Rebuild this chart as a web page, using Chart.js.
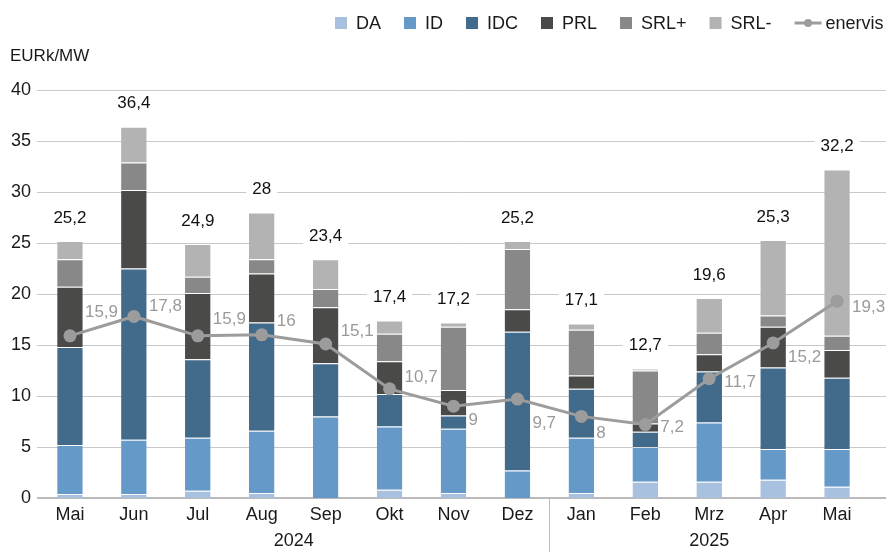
<!DOCTYPE html>
<html><head><meta charset="utf-8">
<script src="https://cdn.jsdelivr.net/npm/chart.js@4.4.1/dist/chart.umd.min.js"></script>
<style>html,body{margin:0;padding:0;background:#fff;overflow:hidden}</style>
</head><body>
<canvas id="c" width="886" height="552"></canvas>
<script>
const months = ['Mai','Jun','Jul','Aug','Sep','Okt','Nov','Dez','Jan','Feb','Mrz','Apr','Mai'];
const years = ['2024','2025'];
const yearStart = [0, 8];
const yearEnd = [7, 12];
const DA = [0.4,0.4,0.7,0.5,0,0.8,0.5,0,0.5,1.6,1.6,1.8,1.1];
const ID = [4.8,5.3,5.2,6.1,8.0,6.2,6.3,2.7,5.4,3.4,5.8,3.0,3.7];
const IDC = [9.6,16.8,7.7,10.6,5.2,3.2,1.3,13.6,4.8,1.5,5.0,8.0,7.0];
const PRL = [5.9,7.7,6.5,4.8,5.5,3.2,2.5,2.2,1.3,0.8,1.7,4.0,2.7];
const SRLplus = [2.7,2.7,1.6,1.4,1.8,2.7,6.2,5.9,4.5,5.2,2.1,1.1,1.4];
const SRLminus = [1.8,3.5,3.2,4.6,2.9,1.3,0.4,0.8,0.6,0.2,3.4,7.4,16.3];
const enervis = [15.9,17.8,15.9,16,15.1,10.7,9,9.7,8,7.2,11.7,15.2,19.3];
const yMin = 0, yMax = 40, yStep = 5;
const yTitle = 'EURk/MW';

const FONT = '"Liberation Sans", Arial, Helvetica, sans-serif';
const fmt = v => (Math.round(v*10)/10).toLocaleString('de-DE', {maximumFractionDigits:1});

const barSets = [
  {label:'DA', data:DA, color:'#a7c1de'},
  {label:'ID', data:ID, color:'#6499c8'},
  {label:'IDC', data:IDC, color:'#426a8b'},
  {label:'PRL', data:PRL, color:'#4a4a49'},
  {label:'SRL+', data:SRLplus, color:'#888888'},
  {label:'SRL-', data:SRLminus, color:'#b3b3b3'}
];

const datasets = barSets.map(s => ({
  type:'bar', label:s.label, data:s.data, backgroundColor:s.color,
  borderColor:'rgba(255,255,255,0.35)', borderWidth:{top:1,left:0,right:0,bottom:0},
  borderSkipped:false, stack:'s', order:1,
  barPercentage:0.4, categoryPercentage:1
}));
datasets.push({
  type:'line', label:'enervis', data:enervis, borderColor:'#9c9c9c', backgroundColor:'#9c9c9c',
  borderWidth:3, pointRadius:6.5, pointBackgroundColor:'#9c9c9c', pointBorderWidth:0,
  tension:0, order:0
});

const lineLabelDy = [-25,-11,-18,-14,-14,-13,13,23,16,2,3,13,5];

const decor = {
  id:'decor',
  beforeDatasetsDraw(chart){
    const {ctx, chartArea:a, scales:{x,y}} = chart;
    ctx.save();
    for (let v = yMin + yStep; v <= yMax; v += yStep){
      const py = Math.round(y.getPixelForValue(v)) + 0.5;
      ctx.strokeStyle = '#c9c9c9'; ctx.lineWidth = 1;
      ctx.beginPath(); ctx.moveTo(a.left - 1, py); ctx.lineTo(chart.width, py); ctx.stroke();
    }
    const p0 = Math.round(y.getPixelForValue(0));
    ctx.strokeStyle = '#a3a3a3'; ctx.lineWidth = 1.5;
    ctx.beginPath(); ctx.moveTo(a.left - 1, p0); ctx.lineTo(chart.width, p0); ctx.stroke();
    const sx = Math.round((x.getPixelForValue(yearEnd[0]) + x.getPixelForValue(yearStart[1]))/2) + 0.5;
    ctx.strokeStyle = '#bdbdbd'; ctx.lineWidth = 1;
    ctx.beginPath(); ctx.moveTo(sx, p0); ctx.lineTo(sx, chart.height); ctx.stroke();
    ctx.restore();
  },
  afterDatasetsDraw(chart){
    const {ctx, scales:{x,y}} = chart;
    ctx.save();
    ctx.font = '17px ' + FONT;
    ctx.textAlign = 'center'; ctx.textBaseline = 'middle';
    months.forEach((m,i) => {
      const tot = barSets.reduce((s,b) => s + b.data[i], 0);
      const t = fmt(tot);
      const px = x.getPixelForValue(i);
      const py = y.getPixelForValue(tot) - 24;
      const w = ctx.measureText(t).width;
      ctx.fillStyle = '#fff';
      ctx.fillRect(px - w/2 - 6, py - 10, w + 12, 20);
      ctx.fillStyle = '#111';
      ctx.fillText(t, px, py + 1);
    });
    ctx.textAlign = 'left';
    ctx.fillStyle = '#9a9a9a';
    enervis.forEach((v,i) => {
      const px = x.getPixelForValue(i) + 15;
      const py = y.getPixelForValue(v) + lineLabelDy[i];
      ctx.fillText(fmt(v), px, py + 1);
    });
    ctx.font = '18px ' + FONT;
    ctx.fillStyle = '#1a1a1a';
    ctx.textAlign = 'center';
    years.forEach((yr,k) => {
      const cx = (x.getPixelForValue(yearStart[k]) + x.getPixelForValue(yearEnd[k]))/2;
      ctx.fillText(yr, cx, 541);
    });
    ctx.restore();
  },
  afterDraw(chart){
    const {ctx} = chart;
    ctx.save();
    ctx.textBaseline = 'middle';
    ctx.fillStyle = '#1a1a1a';
    ctx.textAlign = 'left';
    ctx.font = '17px ' + FONT;
    ctx.fillText(yTitle, 10, 56);
    ctx.font = '18px ' + FONT;
    let lx = 335;
    const ly = 23;
    chart.data.datasets.forEach(ds => {
      if (ds.type === 'bar'){
        ctx.fillStyle = ds.backgroundColor;
        ctx.fillRect(lx, ly - 6, 12, 12);
        lx += 21;
      } else {
        ctx.strokeStyle = ds.borderColor; ctx.lineWidth = 3;
        ctx.beginPath(); ctx.moveTo(lx, ly); ctx.lineTo(lx + 27, ly); ctx.stroke();
        ctx.fillStyle = ds.borderColor;
        ctx.beginPath(); ctx.arc(lx + 13.5, ly, 4, 0, Math.PI*2); ctx.fill();
        lx += 31;
      }
      ctx.fillStyle = '#1a1a1a';
      ctx.fillText(ds.label, lx, ly + 1);
      lx += ctx.measureText(ds.label).width + 23;
    });
    ctx.restore();
  }
};

new Chart(document.getElementById('c'), {
  data:{labels:months, datasets},
  options:{
    responsive:false, animation:false, devicePixelRatio:1,
    layout:{padding:{top:90, right:17, left:0, bottom:0}},
    plugins:{legend:{display:false}, tooltip:{enabled:false}},
    scales:{
      x:{
        stacked:true,
        grid:{display:false, drawTicks:false},
        border:{display:false},
        ticks:{font:{size:18, family:FONT}, color:'#1a1a1a', padding:6, maxRotation:0, autoSkip:false},
        afterFit(s){ s.height = 54; }
      },
      y:{
        stacked:true, min:yMin, max:yMax,
        grid:{display:false, drawTicks:false},
        border:{display:false},
        ticks:{stepSize:yStep, font:{size:18, family:FONT}, color:'#1a1a1a', padding:7},
        afterFit(s){ s.width = 38; }
      }
    }
  },
  plugins:[decor]
});
</script>
</body></html>
